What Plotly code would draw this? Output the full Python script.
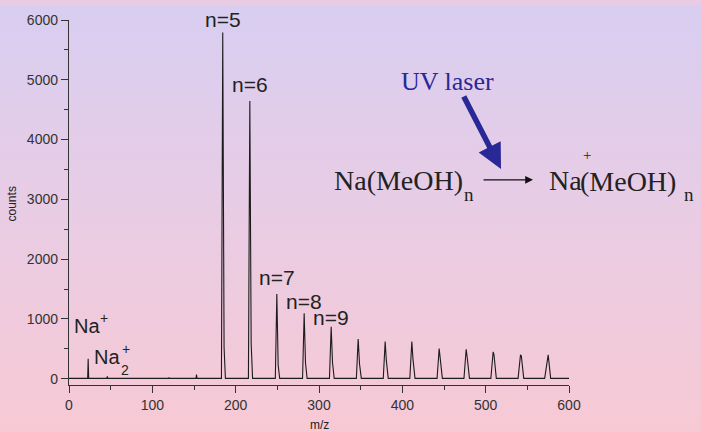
import base64
import plotly.graph_objects as go

# ---- data ----
cluster_n = [5, 6, 7, 8, 9, 10, 11, 12, 13, 14, 15, 16, 17]
cluster_mz = [184.5, 217.0, 249.4, 282.2, 314.6, 347.0, 379.4, 411.4, 444.2, 476.6, 509.0, 541.8, 575.0]
cluster_counts = [5790, 4645, 1415, 1093, 870, 664, 620, 620, 504, 493, 450, 400, 400]
shoulder_counts = [525, 590, 225, 262, 270, 250, 306, 323, 323, 350, 400, 380, 330]
shoulder_offset = [1.6, 1.6, 1.6, 1.6, 1.6, 1.6, 1.4, 1.4, 1.3, 1.3, 1.0, 1.0, -1.2]

minor_mz = [23.0, 46.0, 120.0, 153.0]
minor_counts = [335, 40, 20, 70]

labelled_n = ["n=5", "n=6", "n=7", "n=8", "n=9"]
label_shift = [13, 17, 17, 12, 9]

x_range = [0, 600]
y_range = [-105, 6000]

# ---- build the spectrum trace from the peak lists ----
peaks = []
for m, c in zip(minor_mz, minor_counts):
    peaks.append((m, c, None, None))
for m, c, s, o in zip(cluster_mz, cluster_counts, shoulder_counts, shoulder_offset):
    peaks.append((m, c, s, o))
peaks.sort(key=lambda p: p[0])

base = 5
xs = [x_range[0]]
ys = [base]
for m, c, s, o in peaks:
    hw = 0.9 + 2.2 * (m / 600.0)
    if s is None:
        xs += [m - 0.6, m, m + 0.6]
        ys += [base, c, base]
    elif o > 0:
        xs += [m - hw, m, m + o, m + o + hw]
        ys += [base, c, s, base]
    else:
        xs += [m + o - hw, m + o, m, m + hw]
        ys += [base, s, c, base]
xs.append(x_range[1])
ys.append(base)

fig = go.Figure()
fig.add_trace(go.Scatter(x=xs, y=ys, mode="lines",
                         line=dict(color="#1c1c1c", width=1.1),
                         hoverinfo="skip", showlegend=False))

W, H = 701, 432
L, R, T, B = 69, 132, 15, 47
pw, ph = W - L - R, H - T - B


def px(x):
    return (x - L) / pw


def py(y):
    return (H - B - y) / ph


# gradient background
svg = (
    '<svg xmlns="http://www.w3.org/2000/svg" width="10" height="100" preserveAspectRatio="none">'
    '<defs><linearGradient id="g" x1="0" y1="0" x2="0" y2="1">'
    '<stop offset="0" stop-color="rgb(216,206,241)"/>'
    '<stop offset="0.5" stop-color="rgb(233,204,228)"/>'
    '<stop offset="1" stop-color="rgb(247,201,212)"/>'
    '</linearGradient></defs><rect width="10" height="100" fill="url(#g)"/></svg>'
)
src = "data:image/svg+xml;base64," + base64.b64encode(svg.encode()).decode()
fig.add_layout_image(dict(source=src, xref="paper", yref="paper",
                          x=px(0), y=py(0), sizex=W / pw, sizey=H / ph,
                          xanchor="left", yanchor="top", sizing="stretch",
                          layer="below"))

ann = []
sans = "Liberation Sans, Arial, sans-serif"
serif = "Liberation Serif, Times New Roman, serif"
dark = "#222222"

# peak labels
for lab, m, c, sh in zip(labelled_n, cluster_mz, cluster_counts, label_shift):
    ann.append(dict(x=m, y=c, xref="x", yref="y", text=lab, showarrow=False,
                    yshift=sh, font=dict(family=sans, size=21, color=dark),
                    xanchor="center", yanchor="middle"))


def txt(x, y, t, size, color=dark, family=sans, xanchor="center", angle=0):
    ann.append(dict(x=px(x), y=py(y), xref="paper", yref="paper", text=t,
                    showarrow=False, textangle=angle,
                    font=dict(family=family, size=size, color=color),
                    xanchor=xanchor, yanchor="middle"))


# Na+ and Na2+ labels
txt(87, 325, "Na", 20)
txt(104, 317, "+", 14)
txt(107, 357, "Na", 20)
txt(124.5, 370, "2", 14)
txt(125.5, 348, "+", 14)

# axis titles
txt(12, 202, "counts", 12, angle=-90)
txt(319.5, 426, "m/z", 12)

# reaction scheme
blue = "rgb(40,40,150)"
txt(447, 77, "UV laser", 26, color=blue, family=serif)
txt(332, 178, "Na(MeOH)", 28, family=serif, xanchor="left")
txt(469, 192, "n", 19, family=serif)
txt(547, 178, "Na", 28, family=serif, xanchor="left")
txt(587, 152, "+", 15, family=serif)
txt(578, 179, "(MeOH)", 28, family=serif, xanchor="left")
txt(689, 192, "n", 19, family=serif)

# reaction arrow
ann.append(dict(x=px(533), y=py(177), xref="paper", yref="paper", text="",
                showarrow=True, ax=-51, ay=0, arrowhead=2, arrowsize=1.3,
                arrowwidth=1.2, arrowcolor="#111111", standoff=0))
# laser arrow
ann.append(dict(x=px(501), y=py(166), xref="paper", yref="paper", text="",
                showarrow=True, ax=-38, ay=-74, arrowhead=2, arrowsize=0.9,
                arrowwidth=5.5, arrowcolor=blue, standoff=0))

axis_common = dict(showline=True, linecolor="#333333", linewidth=1.4,
                   ticks="outside", ticklen=7, tickwidth=1.3, tickcolor="#333333",
                   showgrid=False, zeroline=False,
                   tickfont=dict(family=sans, size=14, color="#333333"))

fig.update_layout(
    width=W, height=H,
    margin=dict(l=L, r=R, t=T, b=B, pad=0),
    paper_bgcolor="rgb(233,204,228)",
    plot_bgcolor="rgba(0,0,0,0)",
    annotations=ann,
    xaxis=dict(range=x_range, dtick=100, tick0=0,
               minor=dict(dtick=50, ticklen=4, tickwidth=1.2, tickcolor="#333333", ticks="outside"),
               **axis_common),
    yaxis=dict(range=y_range, dtick=1000, tick0=0,
               minor=dict(dtick=500, ticklen=4, tickwidth=1.2, tickcolor="#333333", ticks="outside"),
               **axis_common),
)

fig.write_html("out.html", config={"displayModeBar": False},
               post_script="document.body.style.margin='0';")
